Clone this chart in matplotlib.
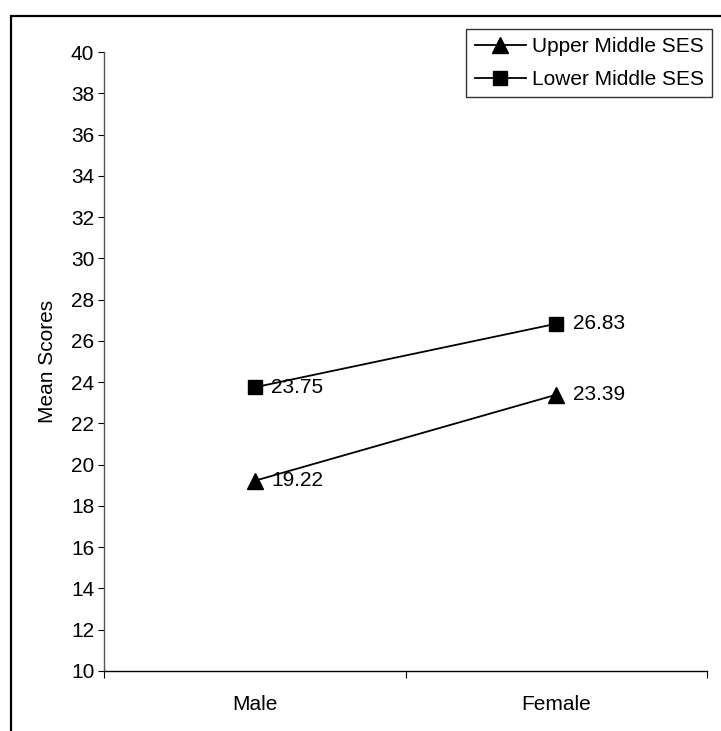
import matplotlib
matplotlib.use("Agg")
import matplotlib.pyplot as plt
from matplotlib.patches import Rectangle

plt.rcParams['font.family'] = ['Liberation Sans', 'DejaVu Sans']

categories = ["Male", "Female"]
upper_middle = [19.22, 23.39]
lower_middle = [23.75, 26.83]
series_names = ["Upper Middle SES", "Lower Middle SES"]
y_ticks = list(range(10, 41, 2))

W, H = 721, 731
fig = plt.figure(figsize=(W / 100, H / 100), dpi=100)
fig.patches.append(Rectangle((11 / W, -0.1), 1.2, 1 - 16 / H + 0.1,
                             transform=fig.transFigure, fill=False,
                             edgecolor='black', linewidth=1.6, zorder=-1))

ax = fig.add_axes([104 / W, 1 - 671 / H, (707 - 104) / W, (671 - 52) / H])
xs = [0.5, 1.5]
fs = 15
l1, = ax.plot(xs, upper_middle, color='black', lw=1.3, marker='^', ms=12,
              label=series_names[0], clip_on=False)
l2, = ax.plot(xs, lower_middle, color='black', lw=1.3, marker='s', ms=9.5,
              label=series_names[1], clip_on=False)
for vals in (upper_middle, lower_middle):
    for x, v in zip(xs, vals):
        ax.annotate(f"{v:.2f}", (x, v), xytext=(12, 0), textcoords='offset points',
                    va='center', ha='left', fontsize=fs)

ax.set_xlim(0, 2)
ax.set_ylim(10, 40)
ax.set_yticks(y_ticks)
ax.tick_params(axis='y', direction='out', length=4, width=0.8, labelsize=fs, pad=3)
ax.set_xticks([0, 1, 2])
ax.set_xticklabels([])
ax.tick_params(axis='x', which='major', direction='out', length=5, width=0.8)
ax.set_xticks(xs, minor=True)
ax.set_xticklabels(categories, minor=True, fontsize=fs)
ax.tick_params(axis='x', which='minor', length=0, pad=17)
for s in ('top', 'right'):
    ax.spines[s].set_visible(False)
ax.spines['left'].set_color('#555555')
ax.spines['left'].set_linewidth(1.0)
ax.spines['bottom'].set_linewidth(1.0)
ax.set_ylabel("Mean Scores", fontsize=fs, labelpad=10)

leg = fig.legend(handles=[l1, l2], loc='upper right',
                 bbox_to_anchor=(712 / W, 1 - 29 / H), borderaxespad=0,
                 fontsize=fs, frameon=True, fancybox=False, edgecolor='black',
                 handlelength=2.45, handletextpad=0.29, labelspacing=0.66,
                 borderpad=0.4)
leg.get_frame().set_linewidth(1.0)

fig.savefig("out.png", dpi=100)
